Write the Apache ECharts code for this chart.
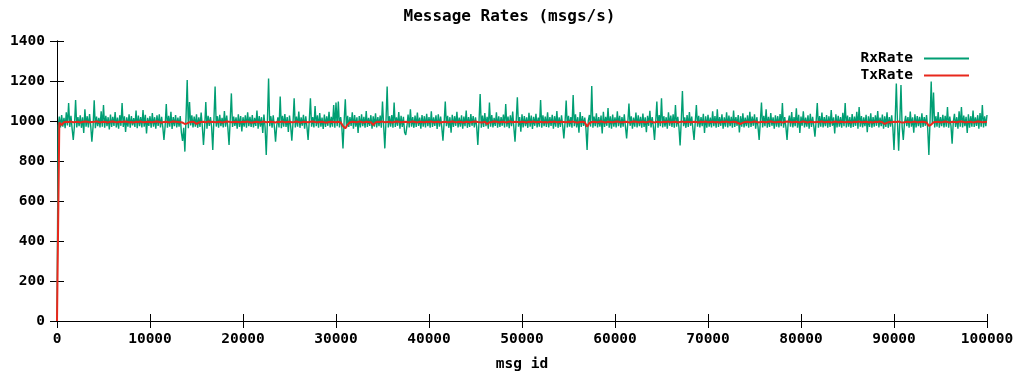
<!DOCTYPE html>
<html>
<head>
<meta charset="utf-8">
<title>Message Rates</title>
<script src="https://cdn.jsdelivr.net/npm/echarts@6/dist/echarts.min.js"></script>
<style>
  html, body { margin: 0; padding: 0; background: #ffffff; }
  #chart { width: 1019px; height: 376px; }
</style>
</head>
<body>
<div id="chart"></div>
<script>
// Sample spacing along the message id axis for each series
const rxStep = 125;
const txStep = 250;

// Received rate (msgs/s), one sample every rxStep ids, from id 0 to 100000
const rxRate = [
  0, 976, 1022, 968, 1030, 972, 1016, 964, 1044, 978, 1090, 970, 1026, 962, 905, 975, 1105, 968, 1020, 974,
  1028, 966, 1018, 940, 1058, 972, 1024, 968, 1035, 976, 897, 970, 1103, 964, 1022, 974, 1016, 968, 1048, 972,
  1080, 966, 1026, 974, 1019, 958, 1032, 970, 1021, 975, 1045, 968, 1017, 962, 1029, 976, 1090, 970, 1023, 945,
  1018, 972, 1034, 966, 1025, 978, 1014, 970, 1052, 964, 1027, 974, 1020, 968, 1055, 972, 1031, 938, 1016, 976,
  1024, 966, 1040, 972, 1019, 962, 1028, 975, 1033, 968, 1021, 970, 905, 974, 1085, 966, 1026, 972, 1046, 960,
  1020, 974, 1030, 968, 1017, 972, 1025, 942, 900, 966, 847, 1020, 1205, 964, 1095, 978, 1028, 968, 1022, 972,
  1033, 966, 1018, 970, 1042, 974, 880, 968, 1095, 962, 1026, 976, 1019, 970, 855, 1010, 1172, 972, 1024, 966,
  1031, 974, 1016, 968, 1050, 972, 1027, 964, 880, 1005, 1138, 970, 1022, 976, 1018, 962, 1034, 970, 1025, 948,
  1019, 972, 1028, 966, 1044, 974, 1021, 970, 1030, 968, 1016, 975, 1052, 962, 1025, 972, 1019, 940, 1032, 968,
  830, 1000, 1213, 974, 1024, 966, 1029, 970, 897, 976, 1018, 968, 1122, 964, 1026, 972, 1035, 970, 1020, 945,
  1027, 974, 902, 990, 1113, 968, 1022, 972, 1047, 966, 1018, 976, 1031, 962, 1024, 970, 905, 1000, 1113, 972,
  1019, 968, 1075, 974, 1028, 966, 1040, 972, 1017, 960, 1032, 970, 1023, 976, 1046, 968, 1021, 972, 1080, 966,
  1092, 974, 1097, 968, 1020, 972, 863, 1000, 1108, 966, 1026, 970, 1019, 975, 1043, 962, 1030, 972, 1018, 940,
  1025, 968, 1034, 974, 1021, 966, 1050, 970, 1016, 976, 1029, 962, 1023, 972, 1038, 968, 1019, 974, 1027, 966,
  1097, 975, 863, 1000, 1172, 968, 1024, 972, 1030, 966, 1092, 970, 1018, 976, 1045, 962, 1026, 970, 1021, 944,
  930, 974, 1032, 968, 1058, 972, 1019, 966, 1027, 970, 1042, 975, 1017, 962, 1030, 972, 1024, 968, 1036, 974,
  1020, 966, 1049, 970, 1018, 976, 1028, 960, 1033, 972, 1022, 968, 902, 990, 1097, 974, 1026, 966, 1019, 942,
  1031, 970, 1024, 976, 1046, 968, 1017, 972, 1029, 962, 1022, 974, 1052, 966, 1019, 970, 1035, 976, 1025, 968,
  1018, 972, 880, 995, 1135, 966, 1027, 970, 1040, 974, 1021, 962, 1092, 972, 1030, 968, 1016, 975, 1044, 966,
  1024, 970, 1019, 976, 1032, 968, 1085, 972, 1022, 964, 1028, 974, 1047, 966, 897, 1000, 1118, 972, 1020, 946,
  1033, 968, 1025, 974, 1018, 966, 1041, 972, 1027, 960, 1021, 976, 1036, 968, 1017, 972, 1105, 966, 1029, 974,
  1022, 970, 1044, 968, 1019, 975, 1031, 962, 1024, 972, 1050, 966, 1018, 970, 1028, 976, 913, 990, 1102, 968,
  1026, 972, 1020, 966, 1130, 974, 1033, 968, 1019, 942, 1045, 970, 1025, 976, 1017, 962, 855, 1000, 1030, 972,
  1175, 966, 1022, 974, 1038, 968, 1019, 972, 1027, 938, 1046, 970, 1021, 976, 1065, 966, 1024, 962, 1032, 972,
  1018, 968, 1049, 974, 1026, 966, 1020, 972, 1034, 970, 913, 990, 1087, 976, 1023, 962, 1017, 972, 1042, 968,
  1029, 974, 1021, 966, 1037, 970, 1018, 944, 1026, 976, 1051, 968, 1020, 972, 905, 995, 1097, 966, 1030, 974,
  1113, 968, 1024, 972, 1019, 962, 1043, 976, 1027, 970, 1033, 966, 1080, 972, 1021, 968, 878, 1000, 1150, 974,
  1018, 966, 1030, 970, 1045, 976, 1022, 962, 905, 992, 1080, 972, 1026, 968, 1019, 974, 1036, 940, 1024, 966,
  1031, 972, 1017, 968, 1048, 974, 1025, 966, 1058, 970, 1020, 976, 1034, 962, 1018, 972, 1044, 968, 1027, 974,
  1021, 966, 1052, 970, 1019, 976, 1030, 943, 1024, 972, 1038, 968, 1017, 974, 1028, 966, 1046, 970, 1022, 976,
  1033, 962, 1019, 972, 905, 995, 1092, 968, 1026, 974, 1058, 966, 1021, 970, 1040, 976, 1018, 962, 1029, 972,
  1024, 968, 1035, 974, 1090, 966, 1020, 970, 905, 995, 1027, 972, 1045, 968, 1019, 974, 1063, 966, 1031, 940,
  1022, 976, 1049, 968, 1017, 972, 1028, 962, 1036, 970, 1021, 974, 922, 998, 1090, 966, 1025, 972, 1042, 968,
  1019, 974, 1030, 966, 1024, 970, 1055, 976, 1018, 938, 1033, 968, 1026, 972, 1020, 966, 1041, 974, 1090, 968,
  1027, 972, 1019, 966, 1035, 970, 1022, 976, 1046, 962, 1070, 972, 1025, 968, 1018, 974, 1031, 944, 1023, 970,
  1039, 966, 1020, 972, 1028, 976, 1050, 968, 1017, 974, 1032, 962, 1024, 970, 1043, 966, 1019, 972, 1029, 968,
  855, 1000, 1188, 990, 852, 1000, 1180, 970, 905, 990, 1026, 974, 1020, 966, 1047, 972, 1018, 942, 1034, 968,
  1025, 974, 1021, 966, 1038, 970, 1019, 976, 1030, 962, 830, 1000, 1197, 985, 1142, 968, 1024, 972, 1045, 966,
  1020, 974, 1031, 968, 1026, 972, 1070, 966, 1022, 976, 887, 995, 1036, 970, 1019, 962, 1048, 972, 1070, 968,
  1027, 974, 1021, 940, 1033, 966, 1024, 972, 1052, 970, 1018, 976, 1029, 962, 1040, 972, 1080, 968, 1023, 974,
  1030
];

// Transmitted rate (msgs/s), one sample every txStep ids
const txRate = [
  0, 993, 980, 994, 996, 995, 997, 994, 995, 996, 993, 995, 997, 996, 994, 995, 996, 998, 995, 994,
  996, 995, 993, 996, 997, 995, 994, 996, 995, 997, 996, 994, 995, 993, 996, 995, 997, 994, 995, 996,
  995, 994, 996, 997, 995, 993, 995, 996, 994, 995, 997, 996, 995, 994, 992, 985, 988, 994, 996, 995,
  985, 993, 995, 996, 994, 997, 995, 996, 994, 995, 996, 993, 995, 997, 996, 994, 995, 996, 995, 994,
  996, 995, 997, 994, 993, 995, 996, 994, 995, 997, 994, 995, 996, 995, 993, 996, 995, 997, 994, 995,
  996, 994, 995, 997, 995, 993, 996, 995, 994, 996, 997, 995, 994, 995, 996, 994, 993, 995, 996, 995,
  994, 996, 993, 975, 963, 982, 994, 996, 995, 994, 997, 995, 993, 996, 995, 994, 980, 993, 996, 995,
  997, 994, 995, 996, 993, 995, 997, 996, 994, 995, 996, 994, 995, 997, 995, 993, 996, 995, 994, 996,
  995, 997, 994, 995, 996, 993, 995, 996, 994, 995, 997, 995, 994, 996, 995, 993, 996, 995, 994, 996,
  997, 995, 994, 993, 996, 985, 994, 995, 997, 996, 994, 995, 996, 993, 995, 997, 994, 996, 995, 994,
  996, 995, 993, 996, 995, 997, 994, 995, 996, 994, 995, 993, 996, 995, 997, 994, 995, 996, 995, 994,
  996, 995, 997, 994, 993, 995, 996, 994, 972, 990, 995, 996, 994, 995, 997, 995, 993, 996, 995, 994,
  996, 997, 995, 994, 995, 996, 993, 995, 997, 996, 994, 995, 996, 994, 995, 997, 995, 993, 996, 995,
  994, 996, 995, 997, 994, 995, 996, 993, 995, 997, 994, 996, 995, 994, 996, 995, 993, 996, 995, 997,
  994, 995, 996, 994, 995, 993, 996, 995, 997, 994, 995, 996, 995, 990, 985, 992, 995, 996, 994, 995,
  997, 995, 993, 996, 995, 994, 996, 997, 995, 994, 995, 996, 993, 995, 997, 996, 994, 995, 996, 994,
  995, 997, 995, 993, 996, 995, 994, 996, 995, 997, 994, 995, 996, 993, 995, 997, 994, 996, 995, 994,
  996, 995, 993, 996, 995, 997, 994, 995, 996, 994, 995, 993, 996, 995, 997, 994, 985, 992, 995, 994,
  996, 995, 997, 994, 993, 995, 996, 994, 995, 997, 994, 995, 996, 995, 993, 975, 982, 994, 995, 996,
  994, 995, 997, 995, 993, 996, 995, 994, 996, 997, 995, 994, 995, 996, 993, 995, 997, 996, 994, 995,
  996
];

// Axis ticks
const xTicks = { min: 0, max: 100000, interval: 10000 };
const yTicks = { min: 0, max: 1400, interval: 200 };

const seriesNames = ['RxRate', 'TxRate'];
const chartTitle = 'Message Rates (msgs/s)';
const xAxisName = 'msg id';

const rxColor = '#009e73';
const txColor = '#e8281c';
const monoFont = '"DejaVu Sans Mono", "Liberation Mono", monospace';

const toPoints = (arr, step) => arr.map((v, i) => [i * step, v]);
const plainNumber = v => String(v);

const chart = echarts.init(document.getElementById('chart'), null, { renderer: 'canvas' });

const baseText = { fontFamily: monoFont, fontWeight: 'bold', fontSize: 14.5, color: '#000' };
const frameLine = { show: true, lineStyle: { color: '#000', width: 1 } };
const innerTick = { show: true, inside: true, length: 7, lineStyle: { color: '#000', width: 1 } };

chart.setOption({
  animation: false,
  backgroundColor: '#ffffff',
  title: {
    text: chartTitle,
    left: 'center',
    top: 4,
    textStyle: Object.assign({}, baseText, { fontSize: 16 })
  },
  legend: {
    data: seriesNames.map(n => ({ name: n, icon: 'rect' })),
    orient: 'vertical',
    align: 'right',
    right: 45,
    top: 46,
    itemWidth: 45,
    itemHeight: 2,
    itemGap: 2,
    textStyle: Object.assign({}, baseText, { padding: [0, 6, 0, 0] }),
    selectedMode: false
  },
  grid: { left: 57, right: 32, top: 41, bottom: 55, containLabel: false, outerBoundsMode: 'none' },
  xAxis: [
    {
      type: 'value',
      position: 'bottom',
      min: xTicks.min, max: xTicks.max, interval: xTicks.interval,
      name: xAxisName,
      nameLocation: 'middle',
      nameGap: 36,
      nameTextStyle: baseText,
      axisLine: frameLine,
      axisTick: innerTick,
      axisLabel: Object.assign({}, baseText, { margin: 11, showMaxLabel: true, formatter: plainNumber }),
      splitLine: { show: false }
    },
    {
      type: 'value',
      position: 'top',
      min: xTicks.min, max: xTicks.max, interval: xTicks.interval,
      axisLine: frameLine,
      axisTick: innerTick,
      axisLabel: { show: false },
      splitLine: { show: false }
    }
  ],
  yAxis: [
    {
      type: 'value',
      position: 'left',
      min: yTicks.min, max: yTicks.max, interval: yTicks.interval,
      axisLine: frameLine,
      axisTick: innerTick,
      axisLabel: Object.assign({}, baseText, { margin: 12, formatter: plainNumber }),
      splitLine: { show: false }
    },
    {
      type: 'value',
      position: 'right',
      min: yTicks.min, max: yTicks.max, interval: yTicks.interval,
      axisLine: frameLine,
      axisTick: innerTick,
      axisLabel: { show: false },
      splitLine: { show: false }
    }
  ],
  series: [
    {
      name: seriesNames[0],
      type: 'line',
      data: toPoints(rxRate, rxStep),
      showSymbol: false,
      symbol: 'none',
      color: rxColor,
      lineStyle: { color: rxColor, width: 1.4 },
      z: 2
    },
    {
      name: seriesNames[1],
      type: 'line',
      data: toPoints(txRate, txStep),
      showSymbol: false,
      symbol: 'none',
      color: txColor,
      lineStyle: { color: txColor, width: 2 },
      z: 3
    }
  ]
});
</script>
</body>
</html>
